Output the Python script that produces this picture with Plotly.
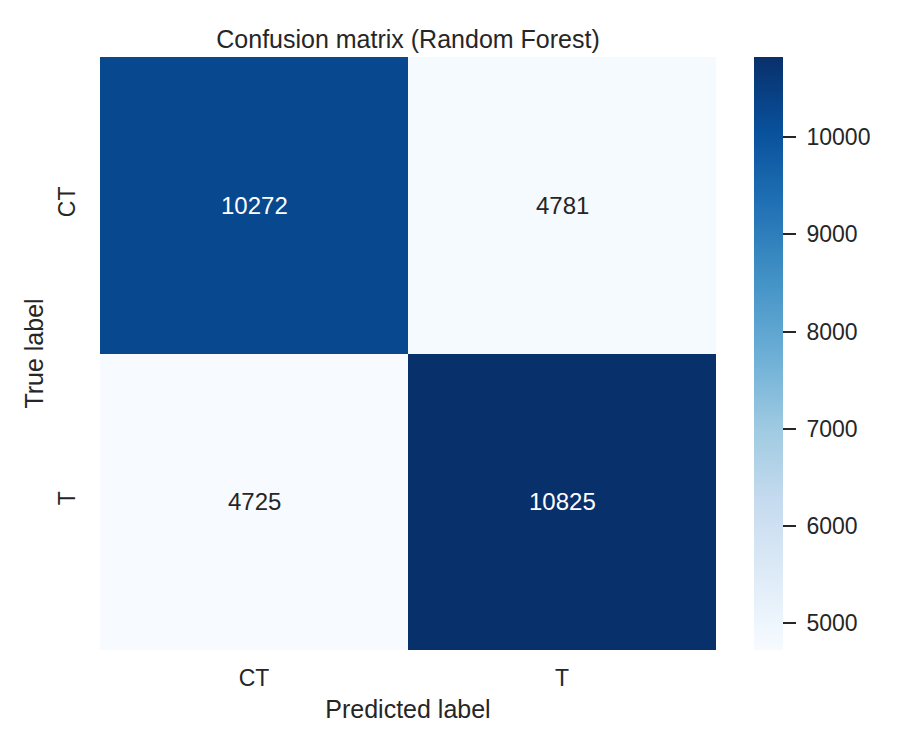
import plotly.graph_objects as go

pred_labels = ["CT", "T"]
true_labels = ["CT", "T"]
counts = [[10272, 4781],
          [4725, 10825]]
cbar_ticks = [5000, 6000, 7000, 8000, 9000, 10000]

OFF = 8  # default page body margin
W, H = 900 - OFF, 750 - OFF
L, R, T, B = 100 - OFF, 716 - OFF, 57 - OFF, 650 - OFF
zmin = min(min(r) for r in counts)
zmax = max(max(r) for r in counts)
txt = "#262626"
font = "Liberation Sans, Arial, sans-serif"

fig = go.Figure(go.Heatmap(
    z=counts, x=pred_labels, y=true_labels,
    colorscale="Blues", zmin=zmin, zmax=zmax,
    xgap=0, ygap=0, hoverinfo="z",
    colorbar=dict(
        x=(754 - 100) / (716 - 100), xanchor="left", xref="paper",
        y=1, yanchor="top", len=1, lenmode="fraction",
        thickness=29, thicknessmode="pixels", xpad=0, ypad=0,
        outlinewidth=0, tickvals=cbar_ticks,
        ticktext=["\u00a0" + str(t) for t in cbar_ticks],
        ticks="outside", ticklen=13, tickwidth=1.5, tickcolor=txt,
        tickfont=dict(size=23, color=txt, family=font),
    ),
))

mid = (zmin + zmax) / 2
annots = []
for i, tl in enumerate(true_labels):
    for j, pl in enumerate(pred_labels):
        v = counts[i][j]
        annots.append(dict(
            x=pl, y=tl, text=str(v), showarrow=False,
            font=dict(size=24, family=font,
                      color="white" if v > mid else txt),
        ))

fig.update_layout(
    width=W, height=H,
    margin=dict(l=L, r=W - R, t=T, b=H - B, pad=0),
    paper_bgcolor="white", plot_bgcolor="white",
    font=dict(family=font, color=txt),
    title=dict(text="Confusion matrix (Random Forest)", x=(L + R) / 2 / W,
               xanchor="center", y=1 - (39 - OFF) / H, yanchor="middle",
               font=dict(size=25, color=txt, family=font)),
    annotations=annots,
    xaxis=dict(title=dict(text="Predicted label", font=dict(size=25, color=txt), standoff=10),
               tickfont=dict(size=23, color=txt), ticks="", ticklabelstandoff=12,
               showgrid=False, zeroline=False, showline=False),
    yaxis=dict(title=dict(text="True label", font=dict(size=25, color=txt), standoff=3),
               tickfont=dict(size=23, color=txt), autorange="reversed", tickangle=-90,
               ticks="", ticklabelstandoff=19,
               showgrid=False, zeroline=False, showline=False),
)

fig.write_html("out.html")
